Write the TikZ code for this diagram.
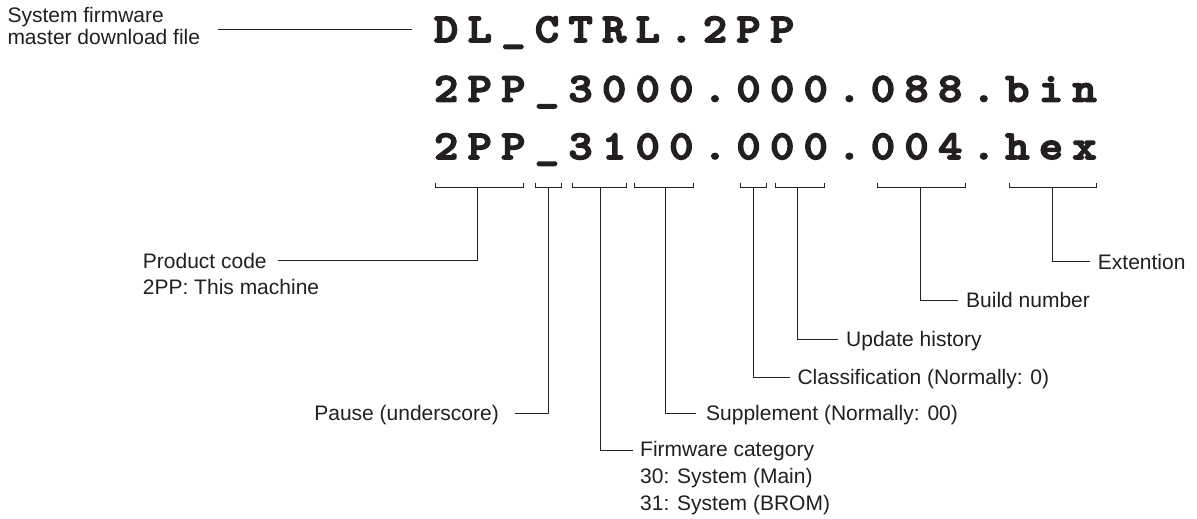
\documentclass[tikz,border=0pt]{standalone}
\usepackage{fontspec}
\setmainfont{Liberation Sans}
\newfontfamily\codefont{lmmonolt10-bold.otf}[FakeBold=4,FakeStretch=1.12]
\usetikzlibrary{calc}
\newcommand\spacedtext[1]{\spacedaux#1\relax}
\def\spacedaux#1{\ifx\relax#1\else\makebox[33.6pt]{#1}\expandafter\spacedaux\fi}
\definecolor{ink}{HTML}{231F20}
\tikzset{
  code/.style={anchor=base west, inner sep=0pt, text=ink, font=\codefont\fontsize{41}{41}\selectfont},
  lbl/.style={inner sep=0pt, text=ink, text height=15pt, text depth=0pt, font=\fontsize{21}{26}\selectfont},
  mlbl/.style={inner sep=0pt, text=ink, align=left},
  brk/.style={draw=ink, line width=0.9pt},
  conn/.style={draw=ink, line width=0.9pt},
}
\begin{document}
\begin{tikzpicture}[x=1pt,y=-1pt]
\useasboundingbox (0,0) rectangle (1197,519);
% file names
\node[code] (fn1) at (429.2,42) {\spacedtext{DL\_CTRL.2PP}};
\node[code] (fn2) at (429.2,101.5) {\spacedtext{2PP\_3000.000.088.bin}};
\node[code] (fn3) at (429.2,159) {\spacedtext{2PP\_3100.000.004.hex}};
% brackets
\foreach \xa/\xb/\xs/\n in {435.7/523.7/477.7/1, 535.7/561/548.7/2, 572.7/626/600.5/3, 634.3/693.3/665.7/4, 740/766/753.5/5, 775/824/797.3/6, 877.7/965/920.3/7, 1009.3/1096/1052/8}{
  \draw[brk] (\xa,182.5) -- (\xa,187.3) -- (\xb,187.3) -- (\xb,182.5);
  \coordinate (b\n) at (\xs,187.3);
}
% top label
\node[mlbl, anchor=north west, font=\fontsize{21}{22.5}\selectfont] (sysfw) at (7.3,7.0) {System firmware\\master download file};
\coordinate (sysline) at ($(sysfw.north east)+(18,22)$);
\draw[conn] (sysline) -- ($(fn1.west |- sysline)+(-17,0)$);
% labels
\node[lbl, anchor=west] (pcode) at (142.7,260.7) {Product code};
\node[lbl, anchor=base west] (pcode2) at ($(pcode.base west)+(0,26.6)$) {2PP: This machine};
\node[lbl, anchor=east] (pause) at (499,413.3) {Pause (underscore)};
\node[mlbl, anchor=north west, font=\fontsize{21}{26.6}\selectfont] (fwcat) at (640,441.5) {Firmware category\\30: System (Main)\\31: System (BROM)};
\node[lbl, anchor=west] (supp) at (706,413.3) {Supplement (Normally: 00)};
\node[lbl, anchor=west] (cls) at (797.3,377.3) {Classification (Normally: 0)};
\node[lbl, anchor=west] (upd) at (846,339) {Update history};
\node[lbl, anchor=west] (bld) at (966,300) {Build number};
\node[lbl, anchor=west] (ext) at (1097.7,261.7) {Extention};
% connectors
\draw[conn] (b1) |- ($(pcode.east)+(11.6,0)$);
\draw[conn] (b2) |- ($(pause.east)+(16,0)$);
\draw[conn] (b3) |- ($(fwcat.north west)+(-7.3,9.3)$);
\draw[conn] (b4) |- ($(supp.west)+(-10,0)$);
\draw[conn] (b5) |- ($(cls.west)+(-7.3,0)$);
\draw[conn] (b6) |- ($(upd.west)+(-7.7,0)$);
\draw[conn] (b7) |- ($(bld.west)+(-8,0)$);
\draw[conn] (b8) |- ($(ext.west)+(-7.7,0)$);
\end{tikzpicture}
\end{document}
